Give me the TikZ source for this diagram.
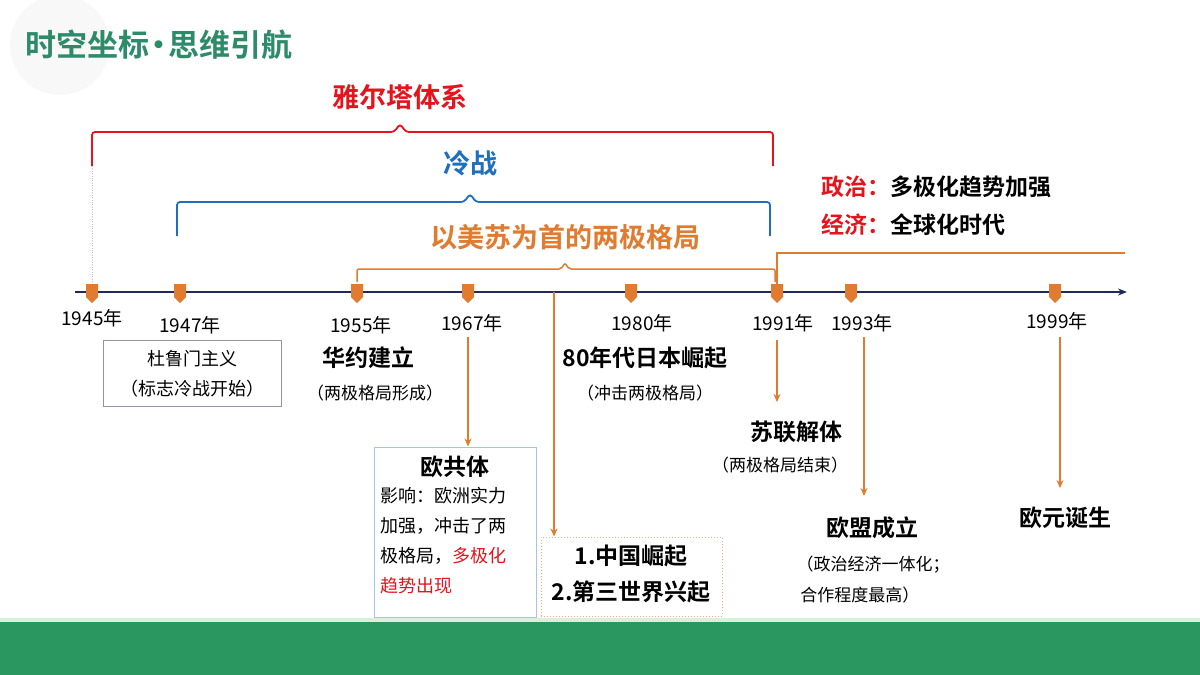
\documentclass[tikz,border=0pt]{standalone}
\usepackage{fontspec}
\setmainfont{Noto Sans CJK SC}
\newfontfamily\cjkb{Noto Sans CJK SC Bold}
\usetikzlibrary{arrows.meta}
\definecolor{tgreen}{HTML}{2E8B6A}
\definecolor{tred}{HTML}{E5131B}
\definecolor{tblue}{HTML}{1F6FBF}
\definecolor{torange}{HTML}{E07B30}
\definecolor{tnavy}{HTML}{1F2A5A}
\begin{document}
\begin{tikzpicture}[x=1pt,y=-1pt,
  hd/.style={font=\cjkb\fontsize{23}{25}\selectfont},
  pr/.style={font=\fontsize{17}{19}\selectfont},
  yr/.style={font=\fontsize{19}{21}\selectfont},
  mk/.style={fill=torange,draw=none},
  arr/.style={torange,line width=1.6pt,-{Stealth[length=8pt,width=7pt]}},
  br/.style={line width=1.8pt,rounded corners=3pt}]
\useasboundingbox (0,0) rectangle (1200,675);
\fill[white] (0,0) rectangle (1200,675);
\fill[blue!3!gray!5] (60,45) circle (50);
\fill[green!40!gray!20] (0,618) rectangle (1200,622);
\fill[tgreen!90!green] (0,622) rectangle (1200,675);
\node[font=\cjkb\fontsize{31}{33}\selectfont,text=tgreen,anchor=west,inner sep=0pt] (title) at (25,45) {时空坐标\kern-6pt•\kern-6pt思维引航};
% Yalta
\node[text=tred,font=\cjkb\fontsize{27}{29}\selectfont] (yalta) at (400,97) {雅尔塔体系};
\draw[br,tred] (92,166) -- (92,132) -- (394,132) -- (400,124) -- (406,132) -- (773,132) -- (773,166);
\draw[gray!50,dotted] (92,166) -- (92,286);
\node[text=tblue,font=\cjkb\fontsize{27}{29}\selectfont] (cold) at (470,163) {冷战};
\draw[br,tblue] (177,236) -- (177,202) -- (464,202) -- (470,194) -- (476,202) -- (770,202) -- (770,236);
\node[text=torange,font=\cjkb\fontsize{27}{29}\selectfont] (bipolar) at (565,237) {以美苏为首的两极格局};
\draw[torange,line width=1.5pt,rounded corners=2pt] (357,282) -- (357,269) -- (561,269) -- (565,263) -- (569,269) -- (775,269) -- (775,282);
\draw[torange,line width=1.5pt] (777,292) -- (777,253) -- (1125,253);
\node[hd,anchor=west] (pol) at (818,187) {\textcolor{tred}{政治：}多极化趋势加强};
\node[hd,anchor=west] (eco) at (818,225) {\textcolor{tred}{经济：}全球化时代};
% axis
\coordinate (a0) at (75,292); \coordinate (a1) at (1127,292);
\draw[tnavy,line width=2.2pt,-{Stealth[length=9pt,width=7pt]}] (a0) -- (a1);
\foreach \x/\n in {92/m45,180/m47,357/m55,468/m67,631/m80,777/m91,851/m93,1055/m99}{
  \fill[mk] (\x-6,284) -- (\x+6,284) -- (\x+6,297) -- (\x,303) -- (\x-6,297) -- cycle;
  \coordinate (\n) at (\x,303);}
\node[yr] (y45) at (92,318) {1945年};
\node[yr] (y47) at (190,325) {1947年};
\node[yr] (y55) at (361,325) {1955年};
\node[yr] (y67) at (472,323) {1967年};
\node[yr] (y80) at (642,323) {1980年};
\node[yr] (y91) at (783,323) {1991年};
\node[yr] (y93) at (862,323) {1993年};
\node[yr] (y99) at (1057,321) {1999年};
% truman
\node[draw=tnavy!50,line width=1pt,align=center,minimum width=178pt,minimum height=66pt,inner sep=2pt,font=\fontsize{18}{30}\selectfont] (truman) at (192.5,373.5) {杜鲁门主义\\（标志冷战开始）};
\node[hd] (warsaw) at (368,358) {华约建立};
\node[pr] (warsawp) at (375,393) {（两极格局形成）};
% EEC
\node[draw=tblue!40,line width=1pt,minimum width=162pt,minimum height=170pt] (eec) at (455,532) {};
\draw[arr] (468,337) -- (eec.north -| 468,0);
\node[hd] (eect) at (455,467) {欧共体};
\node[anchor=west,align=left,font=\fontsize{18}{30}\selectfont] (eecb) at (377,541) {影响：欧洲实力\\加强，冲击了两\\极格局，\textcolor{tred}{多极化}\\\textcolor{tred}{趋势出现}};
% China
\node[draw=torange!60,dotted,line width=1pt,minimum width=181pt,minimum height=79pt] (cn) at (631.5,576.5) {};
\draw[arr] (554,292) -- (cn.north -| 554,0);
\node[align=center,font=\cjkb\fontsize{23}{36}\selectfont] (cnt) at (631,574) {1.中国崛起\\2.第三世界兴起};
\node[hd] (japan) at (645,358) {80年代日本崛起};
\node[pr] (japanp) at (645,393) {（冲击两极格局）};
% USSR
\node[hd] (ussr) at (796,432) {苏联解体};
\draw[arr] (777,340) -- (777,402);
\node[pr] (ussrp) at (780,465) {（两极格局结束）};
% EU
\draw[arr] (864,337) -- (864,496);
\node[hd] (eu) at (872,528) {欧盟成立};
\node[align=left,anchor=west,font=\fontsize{17}{31}\selectfont] (eup) at (793,580) {（政治经济一体化；\\\ 合作程度最高）};
% Euro
\draw[arr] (1060,337) -- (1060,488);
\node[hd] (euro) at (1065,518) {欧元诞生};
\end{tikzpicture}
\end{document}
